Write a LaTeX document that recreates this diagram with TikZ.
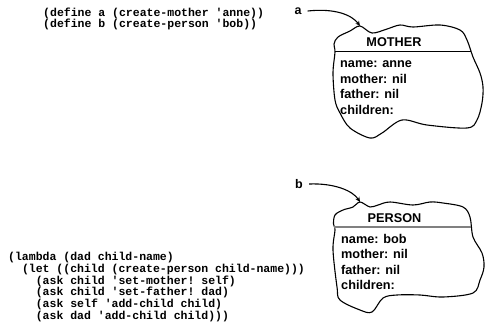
\documentclass[tikz,border=0pt]{standalone}
\usepackage{fontspec}
\setmainfont{Liberation Sans}
\setmonofont{Liberation Mono}
\usetikzlibrary{arrows.meta}
\begin{document}
\begin{tikzpicture}[x=1pt,y=-1pt,
  code/.style={anchor=base west,inner sep=0pt,font=\ttfamily\bfseries\fontsize{11.5}{12}\selectfont},
  field/.style={anchor=base west,inner sep=0pt,font=\bfseries\fontsize{12.7}{14}\selectfont},
  head/.style={anchor=base,inner sep=0pt,font=\bfseries\fontsize{12.7}{14}\selectfont},
  lbl/.style={inner xsep=6pt,inner ysep=0pt,font=\bfseries\fontsize{12.5}{14}\selectfont},
  blob/.style={draw=black,line width=1.1pt,line join=round},
  ptr/.style={draw,line width=1.1pt,-{Stealth[length=5pt,width=4.5pt]}},
]
\useasboundingbox (0,0) rectangle (485,333);

% top code
\node[code] (c1) at (43,16.5) {(define a (create-mother 'anne))};
\node[code] (c2) at (43,27.5) {(define b (create-person 'bob))};

% bottom code
\node[code] (d1) at (8,260.5) {(lambda (dad child-name)};
\node[code] (d2) at (21.8,272.3) {(let ((child (create-person child-name)))};
\node[code] (d3) at (35.6,284.1) {(ask child 'set-mother! self)};
\node[code] (d4) at (35.6,295.9) {(ask child 'set-father! dad)};
\node[code] (d5) at (35.6,307.7) {(ask self 'add-child child)};
\node[code] (d6) at (35.6,319.5) {(ask dad 'add-child child)))};

% MOTHER blob
\draw[blob] plot[smooth cycle,tension=0.55] coordinates {
  (360,26) (372,33) (387,29) (400,25) (413,27) (440,25) (460,30) (467,40)
  (473,57) (480,73) (483,87) (482,103) (477,120) (467,128) (427,125)
  (402,120) (382,133) (370,138) (350,128) (340,113) (335,100) (333,73)
  (335,52) (334,44) (338,37) (350,31)};
\coordinate (atip) at (360,26);
\draw[line width=1pt] (334.5,51) -- (470.5,51);
\node[head] (mh) at (394,46.5) {MOTHER};
\node[field] (m1) at (340,67.5) {name: anne};
\node[field] (m2) at (340,83) {mother: nil};
\node[field] (m3) at (340,98.5) {father: nil};
\node[field] (m4) at (340,114) {children:};

% PERSON blob
\draw[blob] plot[smooth cycle,tension=0.55] coordinates {
  (360,202) (370,207) (378,205) (390,202) (413,205) (430,202) (443,203)
  (463,207) (470,217) (473,237) (482,253) (484,267) (480,280) (473,293)
  (443,297) (420,295) (397,295) (383,298) (372,312) (360,310) (340,300)
  (337,287) (333,250) (335,230) (333.5,224) (335,215) (343,210) (353,207)};
\coordinate (btip) at (360,202);
\draw[line width=1.3pt,gray] (334,227) -- (471,227);
\node[head] (ph) at (394.5,222.5) {PERSON};
\node[field] (p1) at (341,243) {name: bob};
\node[field] (p2) at (341,258.5) {mother: nil};
\node[field] (p3) at (341,274) {father: nil};
\node[field] (p4) at (341,289.5) {children:};

% labels and pointers
\node[lbl] (a) at (298,11) {a};
\node[lbl] (b) at (299,184) {b};
\draw[ptr] (a.east) .. controls (335,8) and (352,15) .. (atip);
\draw[ptr] (b.east) .. controls (335,183) and (353,191) .. (btip);
\end{tikzpicture}
\end{document}
